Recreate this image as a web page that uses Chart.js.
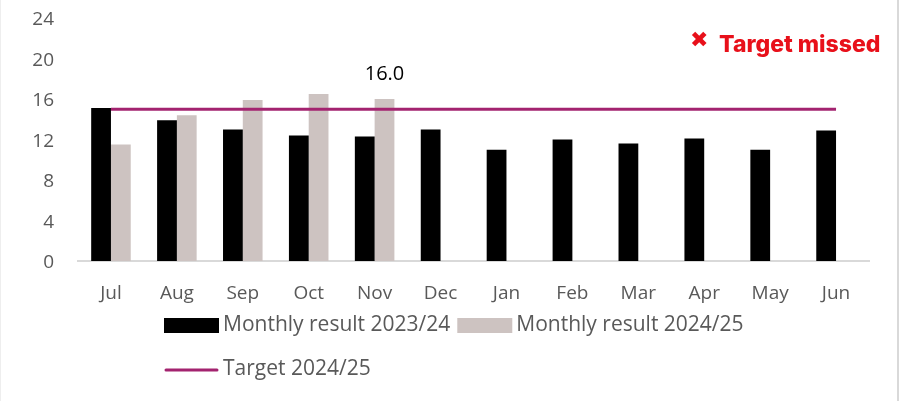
<!DOCTYPE html>
<html>
<head>
<meta charset="utf-8">
<script src="https://cdn.jsdelivr.net/npm/chart.js@4"></script>
<style>
  html, body { margin: 0; padding: 0; background: #fff; }
  #wrap { width: 899px; height: 401px; position: relative; box-sizing: border-box; border-right: 2px solid #d9d9d9; border-left: 1px solid #eeeeee; }
</style>
</head>
<body>
<div id="wrap"><canvas id="grafico" width="896" height="401"></canvas></div>
<script>
const months = ['Jul', 'Aug', 'Sep', 'Oct', 'Nov', 'Dec', 'Jan', 'Feb', 'Mar', 'Apr', 'May', 'Jun'];
const result2324 = [15.1, 13.9, 13.0, 12.4, 12.3, 13.0, 11.0, 12.0, 11.6, 12.1, 11.0, 12.9];
const result2425 = [11.5, 14.4, 15.9, 16.5, 16.0, null, null, null, null, null, null, null];
const target2425 = [15.0, 15.0, 15.0, 15.0, 15.0, 15.0, 15.0, 15.0, 15.0, 15.0, 15.0, 15.0];
const yTicks = [0, 4, 8, 12, 16, 20, 24];
const labelledMonth = 'Nov'; // only this bar gets a value label

const fontFamily = "'Open Sans', sans-serif";
const textGrey = '#595959';

// legend drawn by hand: two bar items on the first row, the line on the second
const legendPlugin = {
  id: 'customLegend',
  afterDraw(chart) {
    const ctx = chart.ctx;
    const ds = chart.data.datasets;
    ctx.save();
    ctx.font = '21px ' + fontFamily;
    ctx.fillStyle = textGrey;
    ctx.textBaseline = 'middle';
    let x = 163;
    [0, 1].forEach(i => {
      ctx.fillStyle = ds[i].backgroundColor;
      ctx.fillRect(x, 318, 55, 15);
      ctx.fillStyle = textGrey;
      ctx.fillText(ds[i].label, x + 59, 325);
      x += 59 + ctx.measureText(ds[i].label).width + 7;
    });
    ctx.strokeStyle = ds[2].borderColor;
    ctx.lineWidth = 3;
    ctx.lineCap = 'round';
    ctx.beginPath();
    ctx.moveTo(165, 370);
    ctx.lineTo(216, 370);
    ctx.stroke();
    ctx.fillText(ds[2].label, 222, 369);
    ctx.restore();
  }
};

// value label above the Nov bar + "Target missed" note
const notesPlugin = {
  id: 'notes',
  afterDatasetsDraw(chart) {
    const ctx = chart.ctx;
    const idx = months.indexOf(labelledMonth);
    const bar = chart.getDatasetMeta(1).data[idx];
    ctx.save();
    ctx.font = '20px ' + fontFamily;
    ctx.fillStyle = '#000';
    ctx.textAlign = 'center';
    ctx.textBaseline = 'middle';
    ctx.fillText(result2425[idx].toFixed(1), bar.x, bar.y - 25);

    ctx.fillStyle = '#e8101a';
    ctx.textAlign = 'left';
    ctx.font = 'bold 22px DejaVu Sans';
    ctx.fillText('\u2716', 689, 41);
    ctx.font = '800 23px Inter, sans-serif';
    ctx.fillText('Target missed', 718, 45);
    ctx.restore();
  }
};

const ctx = document.getElementById('grafico').getContext('2d');
const grafico = new Chart(ctx, {
  data: {
    labels: months,
    datasets: [
      {
        type: 'bar',
        label: 'Monthly result 2023/24',
        data: result2324,
        backgroundColor: '#000000',
        categoryPercentage: 0.6,
        barPercentage: 1.0,
        order: 2
      },
      {
        type: 'bar',
        label: 'Monthly result 2024/25',
        data: result2425,
        backgroundColor: '#cdc3c1',
        categoryPercentage: 0.6,
        barPercentage: 1.0,
        order: 2
      },
      {
        type: 'line',
        label: 'Target 2024/25',
        data: target2425,
        borderColor: '#a3236f',
        backgroundColor: '#a3236f',
        borderWidth: 3,
        pointRadius: 0,
        order: 1
      }
    ]
  },
  options: {
    responsive: false,
    animation: false,
    layout: { padding: { top: 18, right: 28, left: 0, bottom: 0 } },
    plugins: {
      legend: { display: false },
      tooltip: { enabled: false }
    },
    scales: {
      x: {
        grid: { display: false, drawTicks: false },
        border: { color: '#d9d9d9', width: 2 },
        ticks: { color: textGrey, font: { family: fontFamily, size: 19 }, padding: 21, maxRotation: 0 },
        afterFit(axis) { axis.height = 140; }
      },
      y: {
        min: 0,
        max: 24,
        grid: { display: false, drawTicks: false },
        border: { display: false },
        afterBuildTicks(axis) { axis.ticks = yTicks.map(v => ({ value: v })); },
        ticks: { color: textGrey, font: { family: fontFamily, size: 19 }, padding: 24, labelOffset: 2 },
        afterFit(axis) { axis.width = 77; axis.paddingTop = 0; axis.paddingBottom = 0; }
      }
    }
  },
  plugins: [notesPlugin, legendPlugin]
});
</script>
</body>
</html>
